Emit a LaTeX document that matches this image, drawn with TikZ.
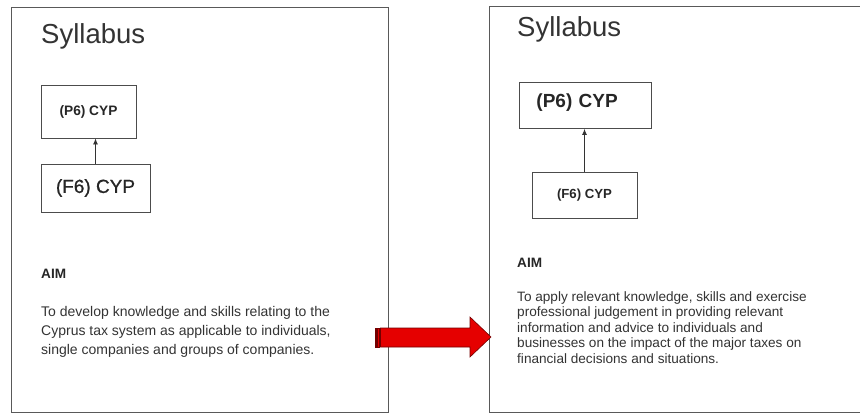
\documentclass[tikz,border=0pt]{standalone}
\usepackage{fontspec}
\setmainfont{Liberation Sans}
\usetikzlibrary{positioning,arrows.meta}
\colorlet{mytext}{black!80}
\colorlet{myred}{red!90!black}
\colorlet{mydarkred}{red!45!black}

\begin{document}
\begin{tikzpicture}[x=1pt,y=-1pt,
  panel/.style={draw=black!65,line width=0.9pt},
  course/.style={draw=black!70,line width=0.9pt,inner sep=0,text=black!85},
  title/.style={anchor=base west,inner sep=0,text=mytext,font=\fontsize{27.5}{30}\selectfont},
  aim/.style={anchor=base west,inner sep=0,text=black!85,font=\bfseries\fontsize{13.6}{16}\selectfont},
  para/.style={anchor=north west,inner sep=0,align=left,text=mytext},
  uparrow/.style={-{Latex[length=6pt,width=5pt]},line width=0.8pt,draw=black!80},
  bigarrow/.style={fill=myred,draw=mydarkred,line width=0.6pt}]
\useasboundingbox (0,0) rectangle (860,415);
% the two syllabus pages
\draw[panel] (11,7) rectangle (388,412);
\draw[panel] (880,6) -| (489,412) -- (880,412);
% old syllabus
\node[title] (title1) at (41,43) {Syllabus};
\node[course,minimum width=95pt,minimum height=53pt,font=\bfseries\fontsize{13.7}{16}\selectfont] (p6a) at (88.5,111.5) {(P6) CYP};
\node[course,minimum width=109pt,minimum height=48pt,font=\fontsize{19}{22}\selectfont\addfontfeature{FakeBold=0.8}] (f6a) at (95.5,188) {(F6) CYP};
\draw[uparrow] (f6a.north) -- (f6a.north |- p6a.south);
\node[aim] (aim1) at (41,278) {AIM};
\node[para,font=\fontsize{14}{19.3}\selectfont] (text1) at (41,305.8)
  {To develop knowledge and skills relating to the\\
   Cyprus tax system as applicable to individuals,\\
   single companies and groups of companies.};
% new syllabus
\node[title] (title2) at (517,36) {Syllabus};
\node[course,anchor=north west,minimum height=46pt,text width=98pt,inner xsep=17pt,align=left,
  text height=14pt,text depth=10pt,font=\bfseries\fontsize{19}{22}\selectfont] (p6b) at (519,82) {(P6) CYP};
\node[course,minimum width=105pt,minimum height=46pt,font=\bfseries\fontsize{13.2}{16}\selectfont] (f6b) at (584.5,195) {(F6) CYP};
\draw[uparrow] (f6b.north) -- (f6b.north |- p6b.south);
\node[aim] (aim2) at (517,267) {AIM};
\node[para,font=\fontsize{13.6}{15.5}\selectfont] (text2) at (517,291)
  {To apply relevant knowledge, skills and exercise\\
   professional judgement in providing relevant\\
   information and advice to individuals and\\
   businesses on the impact of the major taxes on\\
   financial decisions and situations.};
% striped block arrow
\draw[bigarrow] (380.5,328) -- (470,328) -- (470,317) -- (491,337) -- (470,357) -- (470,347) -- (380.5,347) -- cycle;
\draw[bigarrow] (375,328) rectangle (376.5,347);
\draw[bigarrow] (377.5,328) rectangle (379,347);
\end{tikzpicture}
\end{document}
